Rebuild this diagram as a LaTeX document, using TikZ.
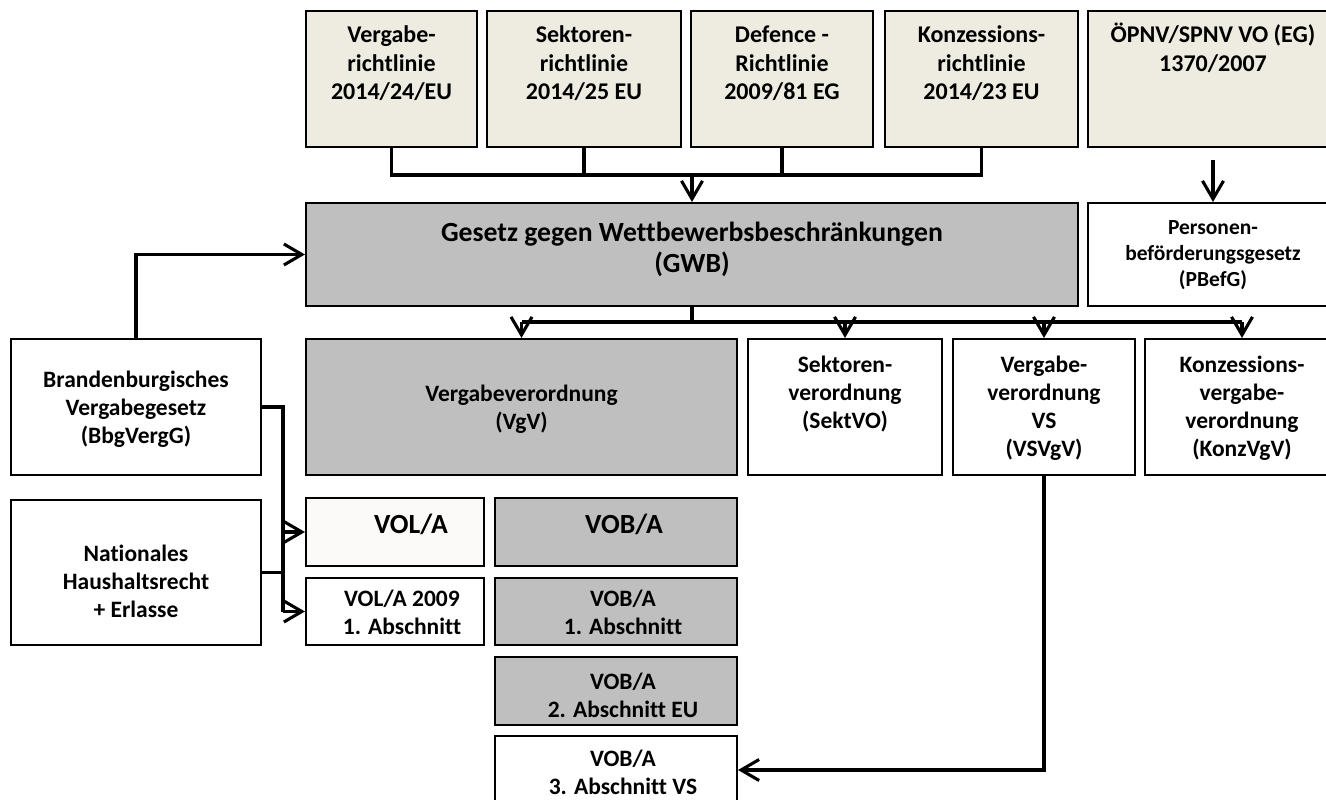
\documentclass[tikz,border=0pt]{standalone}
\usepackage{fontspec}
\setmainfont{Carlito}[Ligatures=NoCommon]
\usetikzlibrary{arrows.meta}
\definecolor{beige}{HTML}{EEECE1}
\definecolor{grayfill}{HTML}{BFBFBF}
\definecolor{offwhite}{HTML}{FBFAF9}
\newcommand{\tl}[1]{\begin{tabular}[t]{@{}c@{}}#1\end{tabular}}
\begin{document}
\begin{tikzpicture}[x=1pt,y=-1pt,
  box/.style={draw=black, line width=2.1pt, inner sep=0pt, rectangle},
  eu/.style={box, fill=beige},
  grey/.style={box, fill=grayfill},
  plain/.style={box, fill=white},
  txt/.style={anchor=base, inner sep=0pt, font=\bfseries\fontsize{23.5}{28}\selectfont},
  txttop/.style={txt, font=\bfseries\fontsize{24}{28.5}\selectfont},
  txtbig/.style={txt, font=\bfseries\fontsize{27.7}{31}\selectfont},
  txtsmall/.style={txt, font=\bfseries\fontsize{21.5}{26}\selectfont},
  conn/.style={draw=black, line width=3.1pt},
  arr/.style={conn, -{Straight Barb[length=18pt,width=21pt]}}]
\useasboundingbox (0,0) rectangle (1326,800);
\clip (0,0) rectangle (1326,800);
% top row (EU law)
\node[eu, minimum width=171pt, minimum height=136pt] (vr) at (391.5,79) {};
\node[eu, minimum width=194pt, minimum height=136pt] (sr) at (584,79) {};
\node[eu, minimum width=182pt, minimum height=136pt] (dr) at (782,79) {};
\node[eu, minimum width=193pt, minimum height=136pt] (kr) at (981.5,79) {};
\node[eu, minimum width=250pt, minimum height=136pt] (oe) at (1213,79) {};
% GWB row
\node[grey, minimum width=772pt, minimum height=103pt] (gwb) at (692,254.5) {};
\node[plain, minimum width=250pt, minimum height=103pt] (pbefg) at (1213,254.5) {};
% second row
\node[plain, minimum width=250pt, minimum height=136pt] (bbg) at (136,407) {};
\node[grey, minimum width=431pt, minimum height=136pt] (vgv) at (521.5,407) {};
\node[plain, minimum width=194pt, minimum height=136pt] (sekt) at (845,407) {};
\node[plain, minimum width=182pt, minimum height=136pt] (vsvgv) at (1044,407) {};
\node[plain, minimum width=194pt, minimum height=136pt] (konz) at (1242,407) {};
% lower rows
\node[plain, minimum width=250pt, minimum height=145pt] (nat) at (136,572.5) {};
\node[box, fill=offwhite, minimum width=178pt, minimum height=68pt] (vola) at (395,532) {};
\node[grey, minimum width=242pt, minimum height=68pt] (vobA) at (616,532) {};
\node[plain, minimum width=178pt, minimum height=67pt] (vola09) at (395,611.5) {};
\node[grey, minimum width=242pt, minimum height=67pt] (vob1) at (616,611.5) {};
\node[grey, minimum width=242pt, minimum height=68pt] (vob2) at (616,691) {};
\node[plain, minimum width=242pt, minimum height=68pt] (vob3) at (616,770) {};
% texts
\node[txttop] (vr-t) at (391.5,43) {\tl{Vergabe-\\richtlinie\\2014/24/EU}};
\node[txttop] (sr-t) at (584,43) {\tl{Sektoren-\\richtlinie\\2014/25 EU}};
\node[txttop] (dr-t) at (782,43) {\tl{Defence -\\Richtlinie\\2009/81 EG}};
\node[txttop] (kr-t) at (981.5,43) {\tl{Konzessions-\\richtlinie\\2014/23 EU}};
\node[txttop] (oe-t) at (1213,43) {\tl{ÖPNV/SPNV VO (EG)\\1370/2007}};
\node[txtbig] (gwb-t) at (692,241) {\tl{Gesetz gegen Wettbewerbsbeschränkungen\\(GWB)}};
\node[txtsmall] (pbefg-t) at (1213,234) {\tl{Personen-\\beförderungsgesetz\\(PBefG)}};
\node[txt] (bbg-t) at (136,387) {\tl{Brandenburgisches\\Vergabegesetz\\(BbgVergG)}};
\node[txt] (vgv-t) at (521.5,401) {\tl{Vergabeverordnung\\(VgV)}};
\node[txt] (sekt-t) at (845,372) {\tl{Sektoren-\\verordnung\\(SektVO)}};
\node[txt] (vsvgv-t) at (1044,372) {\tl{Vergabe-\\verordnung\\VS\\(VSVgV)}};
\node[txt] (konz-t) at (1242,372) {\tl{Konzessions-\\vergabe-\\verordnung\\(KonzVgV)}};
\node[txt] (nat-t) at (136,561) {\tl{Nationales\\Haushaltsrecht\\+ Erlasse}};
\node[txtbig] (vola-t) at (411,533) {VOL/A};
\node[txtbig] (vobA-t) at (624,533) {VOB/A};
\node[txt] (vola09-t) at (402,606) {\tl{VOL/A 2009\\1. Abschnitt}};
\node[txt] (vob1-t) at (623,606) {\tl{VOB/A\\1. Abschnitt}};
\node[txt] (vob2-t) at (623,689) {\tl{VOB/A\\2. Abschnitt EU}};
\node[txt] (vob3-t) at (623,766) {\tl{VOB/A\\3. Abschnitt VS}};
% connectors: EU directives -> GWB
\coordinate (bus) at (0,175);
\draw[conn] (vr.south) -- (vr.south |- bus) -| (kr.south);
\draw[conn] (sr.south) -- (sr.south |- bus);
\draw[conn] (dr.south) -- (dr.south |- bus);
\draw[arr] (gwb.north |- bus) -- (gwb.north);
% OePNV -> PBefG
\draw[arr] ([yshift=-12pt]oe.south) -- (pbefg.north);
% GWB -> ordinances
\coordinate (split) at (0,322);
\draw[conn] (gwb.south) -- (gwb.south |- split);
\draw[conn] (vgv.north |- split) -- (konz.north |- split);
\draw[arr] (vgv.north |- split) -- (vgv.north);
\draw[arr] (sekt.north |- split) -- (sekt.north);
\draw[arr] (vsvgv.north |- split) -- (vsvgv.north);
\draw[arr] (konz.north |- split) -- (konz.north);
% Brandenburg -> GWB
\draw[arr] (bbg.north) |- (gwb.west);
% Brandenburg / Nationales -> VOL/A
\coordinate (lbus) at (283,0);
\draw[conn] (bbg.east) -| (lbus |- vola09.west);
\draw[conn] (nat.east) -- (nat.east -| lbus);
\draw[arr] (vola.west -| lbus) -- (vola.west);
\draw[arr] (vola09.west -| lbus) -- (vola09.west);
% VSVgV -> VOB/A 3
\draw[arr] (vsvgv.south) |- (vob3.east);
\end{tikzpicture}
\end{document}
